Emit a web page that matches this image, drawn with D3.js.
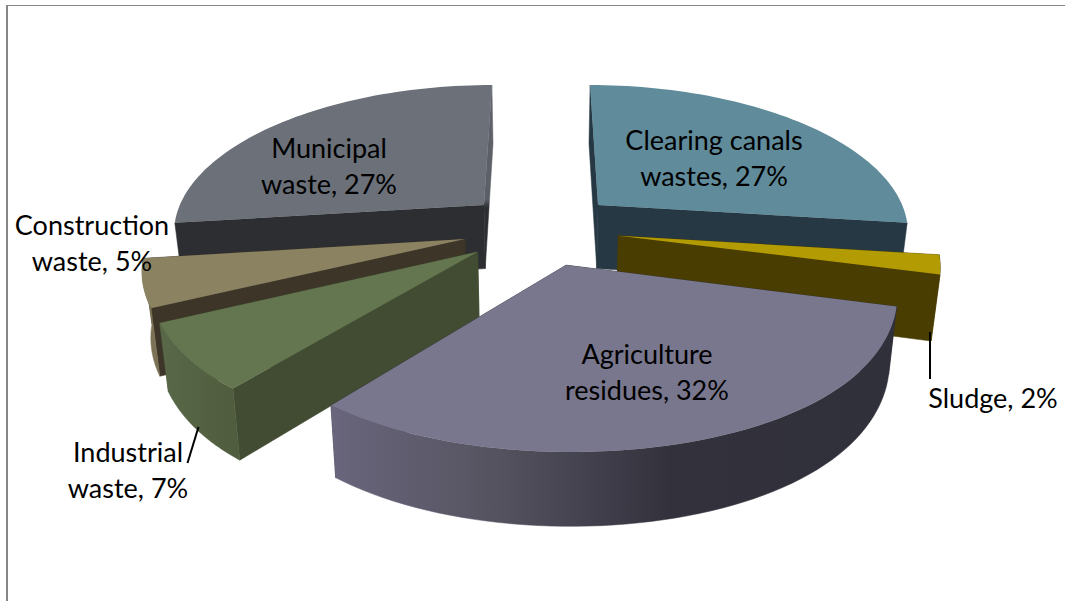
<!DOCTYPE html>
<html>
<head>
<meta charset="utf-8">
<script src="https://cdn.jsdelivr.net/npm/d3@7"></script>
<style>
  html, body { margin: 0; padding: 0; background: #fff; }
  svg { display: block; }
  text { font-family: Lato, "Open Sans", sans-serif; fill: #000; }
</style>
</head>
<body>
<svg id="chart" width="1065" height="601"></svg>
<script>
// Waste sources, in clockwise pie order starting at twelve o'clock
const categories = ["Clearing canals wastes", "Sludge", "Agriculture residues", "Industrial waste", "Construction waste", "Municipal waste"];
const shares = [27, 2, 32, 7, 5, 27];
const labelLines = [["Clearing canals", "wastes"], ["Sludge"], ["Agriculture", "residues"], ["Industrial", "waste"], ["Construction", "waste"], ["Municipal", "waste"]];
const topColors = ["#5f8b9a", "#b39b03", "#79778d", "#64764f", "#8b8262", "#6b7079"];
const wallColors = ["#263843", "#4a3d02", "#30303b", "#424c33", "#3d3628", "#2c2e31"];
const rimColors = ["#263843", "#4a3d02", "url(#rim-2)", "url(#rim-3)", "#7b7255", "#2c2e31"];

const W = 1065, H = 601;
const svg = d3.select("#chart");

// Panel border: only the top and left edges fall inside the frame
svg.append("rect").attr("x", 6).attr("y", 5).attr("width", W - 6).attr("height", 1).attr("fill", "#868686");
svg.append("rect").attr("x", 6).attr("y", 5).attr("width", 2).attr("height", H - 5).attr("fill", "#868686");

// Ground-plane perspective: the disc has unit radius, +v points away from the viewer
const EXPLODE = 0.25, PERSPECTIVE = 0.1663, CX = 541;
const depth = v => 1 + PERSPECTIVE * v;
const xTop = d3.scaleLinear().domain([0, 1]).range([CX, CX + 312.5]);
const xBase = d3.scaleLinear().domain([0, 1]).range([CX, CX + 305.5]);
const yTop = d3.scaleLinear().domain([0, 1]).range([-656, -656 + 884.7]);
const yBase = d3.scaleLinear().domain([0, 1]).range([-630, -630 + 923.3]);

// The nearest part of the disc is eased back slightly
const ease = v => v < -0.75 ? v + 0.109 * (v + 0.75) * (v + 0.75) : v;

const project = (u, v, base) => {
  const z = depth(ease(v));
  return base ? [xBase(u / z), yBase(1 / z)] : [xTop(u / z), yTop(1 / z)];
};

const slices = d3.pie().sort(null).value(d => d)(shares);
const outline = d3.line();

function geometry(s) {
  const mid = (s.startAngle + s.endAngle) / 2;
  const ox = EXPLODE * Math.sin(mid), oy = EXPLODE * Math.cos(mid);
  const steps = d3.range(0, 61).map(i => s.startAngle + (s.endAngle - s.startAngle) * i / 60);
  const rimAt = base => steps.map(a => project(ox + Math.sin(a), oy + Math.cos(a), base));
  return {
    facesViewer: Math.cos(mid) < 0,
    apexTop: project(ox, oy, false),
    apexBase: project(ox, oy, true),
    rimTop: rimAt(false),
    rimBase: rimAt(true)
  };
}

// Shading across the curved outer faces and the lit end wall of the municipal slice
const defs = svg.append("defs");
const gradient = (id, stops, vertical) => {
  const g = defs.append("linearGradient").attr("id", id);
  if (vertical) g.attr("x2", 0).attr("y2", 1);
  stops.forEach(([o, c]) => g.append("stop").attr("offset", o).attr("stop-color", c));
};
gradient("rim-2", [[0, "#69667d"], [0.3, "#55525f"], [0.6, "#32313c"], [1, "#30303b"]]);
gradient("rim-3", [[0, "#586848"], [1, "#4f5c3d"]]);
gradient("end-5", [[0, "#5f6269"], [0.62, "#5c5f66"], [0.67, "#2c2e31"], [1, "#2c2e31"]], true);
const endWallFill = { 5: "url(#end-5)" };

// Back-to-front paint order so nearer slices cover those behind them
const paintOrder = [5, 0, 1, 4, 3, 2];
const layer = svg.append("g");

paintOrder.forEach(i => {
  const g = geometry(slices[i]);
  const last = g.rimTop.length - 1;
  const group = layer.append("g").attr("class", "slice");
  // radial walls at both ends of the wedge
  [[g.rimTop[0], g.rimBase[0], 0], [g.rimTop[last], g.rimBase[last], 1]].forEach(([t, b, end]) => {
    const fill = end && endWallFill[i] ? endWallFill[i] : wallColors[i];
    group.append("path")
      .attr("d", outline([g.apexTop, t, b, g.apexBase]) + "Z")
      .attr("fill", fill).attr("stroke", fill).attr("stroke-width", 0.5);
  });
  // curved outer wall, only where it turns towards the viewer
  if (g.facesViewer) {
    group.append("path")
      .attr("d", outline(g.rimTop.concat(g.rimBase.slice().reverse())) + "Z")
      .attr("fill", rimColors[i]).attr("stroke", rimColors[i]).attr("stroke-width", 0.5);
  }
  // top face
  group.append("path")
    .attr("d", outline([g.apexTop].concat(g.rimTop)) + "Z")
    .attr("fill", topColors[i]);
});

// Leader lines for the two labels set away from their slices
const leaders = [[[930, 332], [930, 379]], [[198.5, 427], [187.5, 463]]];
svg.append("g").selectAll("path").data(leaders).join("path")
  .attr("d", d => outline(d)).attr("stroke", "#000").attr("stroke-width", 2).attr("fill", "none");

// Data labels: the last line carries the share
const labelAnchors = [[714, 150], [993, 408], [647, 364], [128, 462], [92, 235], [329, 158]];
const LINE = 35.5;
const labels = svg.append("g").selectAll("text").data(categories).join("text")
  .attr("text-anchor", "middle").attr("font-size", 27)
  .attr("x", (d, i) => labelAnchors[i][0]).attr("y", (d, i) => labelAnchors[i][1]);
labels.each(function (d, i) {
  const lines = labelLines[i];
  lines.forEach((line, j) => {
    d3.select(this).append("tspan")
      .attr("x", labelAnchors[i][0])
      .attr("dy", j ? LINE : 0)
      .text(j === lines.length - 1 ? `${line}, ${shares[i]}%` : line);
  });
});
</script>
</body>
</html>
